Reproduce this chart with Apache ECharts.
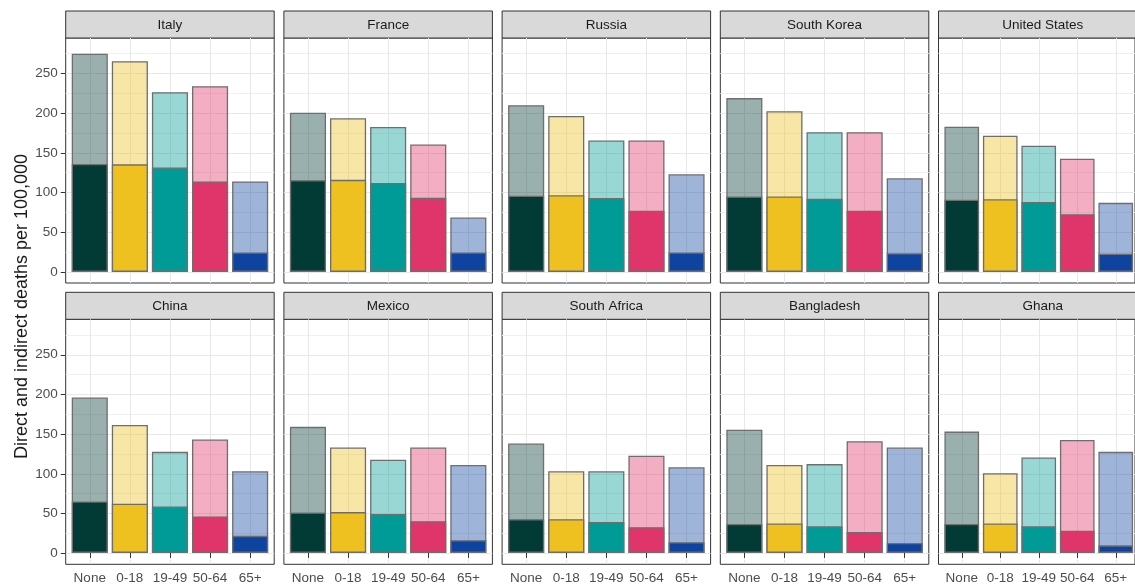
<!DOCTYPE html>
<html><head><meta charset="utf-8">
<script src="https://cdn.jsdelivr.net/npm/echarts@6/dist/echarts.min.js"></script>
<style>html,body{margin:0;padding:0;background:#fff}#c{width:1135px;height:585px}</style>
</head><body><div id="c"></div>
<script>
// ---- data ----
const ageGroups = ['None', '0-18', '19-49', '50-64', '65+'];
const countries = ['Italy', 'France', 'Russia', 'South Korea', 'United States',
                   'China', 'Mexico', 'South Africa', 'Bangladesh', 'Ghana'];
const yTicks = [0, 50, 100, 150, 200, 250];

const italyTotal = [275, 265.5, 226.5, 234, 114];
const italyDirect = [136, 135.5, 131.5, 114, 24.5];
const franceTotal = [200.5, 193.5, 182.5, 160.5, 68.5];
const franceDirect = [115.5, 116, 112, 93.5, 24.5];
const russiaTotal = [210, 196.5, 165.5, 165.5, 123];
const russiaDirect = [96, 96.5, 93, 77, 24.5];
const southKoreaTotal = [219, 202.5, 176, 176, 118];
const southKoreaDirect = [95, 95, 92, 77, 23.5];
const usTotal = [183, 171.5, 159, 142.5, 87];
const usDirect = [91, 91.5, 88, 72.5, 23];
const chinaTotal = [196, 161.5, 127.5, 143, 103];
const chinaDirect = [65, 62, 58.5, 46, 21.5];
const mexicoTotal = [159, 133, 117.5, 133, 111];
const mexicoDirect = [51, 51.5, 49, 40, 16];
const southAfricaTotal = [138, 103, 103, 122.5, 108];
const southAfricaDirect = [42.5, 42.5, 39, 32.5, 13.5];
const bangladeshTotal = [155.5, 111, 112, 141, 133];
const bangladeshDirect = [36.5, 37, 33.5, 26.5, 12.5];
const ghanaTotal = [153, 100.5, 120.5, 142.5, 127.5];
const ghanaDirect = [36.5, 37, 33.5, 28, 9.5];

const totals = [italyTotal, franceTotal, russiaTotal, southKoreaTotal, usTotal,
                chinaTotal, mexicoTotal, southAfricaTotal, bangladeshTotal, ghanaTotal];
const directs = [italyDirect, franceDirect, russiaDirect, southKoreaDirect, usDirect,
                 chinaDirect, mexicoDirect, southAfricaDirect, bangladeshDirect, ghanaDirect];

// ---- style / layout ----
const darkColors = ['#023A36', '#EEC020', '#009B96', '#E0356A', '#0E44A0'];
function hexToRgba(h, a) {
  const n = parseInt(h.slice(1), 16);
  return 'rgba(' + ((n >> 16) & 255) + ',' + ((n >> 8) & 255) + ',' + (n & 255) + ',' + a + ')';
}
const lightColors = darkColors.map(c => hexToRgba(c, 0.4));
const FONT = '"Liberation Sans", Arial, sans-serif';
const colLefts = [65.7, 283.9, 502.1, 720.3, 938.5];
const panelW = 208.5;
const stripTops = [11, 292.3];
const stripH = 27;
const panelTops = [38, 319.3];
const panelH = 245;
const yMin = -14, yMax = 294.7;
const band = panelW / 5.2;
const barBorder = '#6E6E6E';

const grids = [], xAxes = [], yAxes = [], series = [], graphics = [];

for (let i = 0; i < 10; i++) {
  const r = Math.floor(i / 5), c = i % 5;
  grids.push({ left: colLefts[c], top: panelTops[r], width: panelW, height: panelH,
    show: true, borderColor: '#333333', borderWidth: 1, backgroundColor: 'transparent', containLabel: false });
  xAxes.push({ type: 'value', gridIndex: i, min: 0, max: 1, show: false });
  yAxes.push({ type: 'value', gridIndex: i, min: yMin, max: yMax, splitNumber: 6,
    axisLine: { show: false },
    axisTick: { show: c === 0, length: 5, lineStyle: { color: '#333333' }, customValues: yTicks },
    axisLabel: { show: c === 0, color: '#4D4D4D', fontSize: 13.5, fontFamily: FONT, margin: 8, customValues: yTicks },
    splitLine: { show: true, lineStyle: { color: '#E8E8E8', width: 1 } },
    minorTick: { show: false, splitNumber: 2 },
    minorSplitLine: { show: true, lineStyle: { color: '#F0F0F0', width: 1 } }
  });
}
for (let i = 0; i < 10; i++) {
  const r = Math.floor(i / 5), c = i % 5;
  grids.push({ left: colLefts[c] + 0.1 * band, top: panelTops[r], width: 5 * band, height: panelH, show: false });
  xAxes.push({ type: 'category', gridIndex: 10 + i, data: ageGroups, boundaryGap: true,
    axisLine: { show: false },
    axisTick: { show: r === 1, alignWithLabel: true, length: 5, lineStyle: { color: '#333333' } },
    axisLabel: { show: r === 1, color: '#4D4D4D', fontSize: 13.5, fontFamily: FONT, margin: 7, interval: 0 },
    splitLine: { show: true, alignWithLabel: true, interval: 0, lineStyle: { color: '#E8E8E8', width: 1 } }
  });
  yAxes.push({ type: 'value', gridIndex: 10 + i, min: yMin, max: yMax, show: false, splitLine: { show: false } });
  series.push({ type: 'bar', xAxisIndex: 10 + i, yAxisIndex: 10 + i, barWidth: '90%', barGap: '-100%',
    data: totals[i].map((v, k) => ({ value: v, itemStyle: { color: lightColors[k] } })),
    itemStyle: { borderColor: barBorder, borderWidth: 1.3 }, z: 2 });
  series.push({ type: 'bar', xAxisIndex: 10 + i, yAxisIndex: 10 + i, barWidth: '90%', barGap: '-100%',
    data: directs[i].map((v, k) => ({ value: v, itemStyle: { color: darkColors[k] } })),
    itemStyle: { borderColor: barBorder, borderWidth: 1.3 }, z: 3 });
  graphics.push({ type: 'rect', silent: true,
    shape: { x: colLefts[c], y: stripTops[r], width: panelW, height: stripH },
    style: { fill: '#D9D9D9', stroke: '#333333', lineWidth: 1 } });
  graphics.push({ type: 'text', silent: true, x: colLefts[c] + panelW / 2, y: stripTops[r] + stripH / 2 + 0.5,
    style: { text: countries[i], font: '13.5px ' + FONT, fill: '#1A1A1A', align: 'center', verticalAlign: 'middle',
             textAlign: 'center', textVerticalAlign: 'middle' } });
}
graphics.push({ type: 'text', silent: true, x: 22.5, y: 306.5, rotation: Math.PI / 2,
  style: { text: 'Direct and indirect deaths per 100,000', font: '18px ' + FONT, fill: '#1A1A1A',
           align: 'center', verticalAlign: 'middle', textAlign: 'center', textVerticalAlign: 'middle' } });

const chart = echarts.init(document.getElementById('c'), null, { renderer: 'canvas' });
chart.setOption({
  animation: false,
  backgroundColor: '#FFFFFF',
  textStyle: { fontFamily: FONT },
  grid: grids, xAxis: xAxes, yAxis: yAxes, series: series, graphic: graphics
});
</script>
</body></html>
